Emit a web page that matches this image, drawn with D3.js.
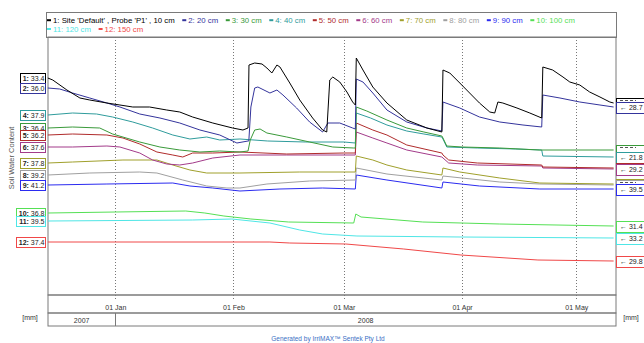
<!DOCTYPE html>
<html><head><meta charset="utf-8">
<script src="https://cdn.jsdelivr.net/npm/d3@7"></script>
<style>body{margin:0;background:#fff;} svg{display:block;font-family:"Liberation Sans",Arial,sans-serif;}</style>
</head><body><svg id="c" width="644" height="343"></svg>
<script>
const seriesNames = ["1: Site 'Default' , Probe 'P1' , 10 cm","2: 20 cm","3: 30 cm","4: 40 cm","5: 50 cm","6: 60 cm","7: 70 cm","8: 80 cm","9: 90 cm","10: 100 cm","11: 120 cm","12: 150 cm"];
const seriesColors = ["#000000","#34349c","#3a9a3a","#2f9c9c","#b02c2c","#a33b8a","#a0a02c","#a0a0a0","#2b2bf0","#55e055","#4fe6e6","#f04848"];
const startLabels = ["33.4","36.0","36.4","37.9","36.2","37.6","37.8","39.2","41.2","36.8","39.5","37.4"];
// end values; labels hidden behind a neighbouring box are left empty
const endLabels = ["","28.7","","21.8","","29.2","","","39.5","31.4","33.2","29.8"];
const monthTicks = ["2008-01-01T00","2008-02-01T00","2008-03-01T00","2008-04-01T00","2008-05-01T00"];
const yearLabels = ["2007","2008"];
const timeRange = ["2007-12-14T08","2008-05-11T10"];

// relative display level of each probe (0 = bottom of plot)
const s1 = [["2007-12-14T07",217],["2007-12-15T14",215],["2007-12-19T07",205],["2007-12-22T17",197],["2007-12-25T07",195],["2007-12-29T19",192],["2008-01-02T05",190],["2008-01-05T14",188],["2008-01-10T00",188],["2008-01-14T12",185],["2008-01-17T22",183],["2008-01-21T07",178],["2008-01-26T14",172],["2008-01-31T19",167],["2008-02-03T12",165],["2008-02-04T20",167],["2008-02-05T02",230],["2008-02-06T14",232],["2008-02-08T12",231],["2008-02-09T19",227],["2008-02-11T02",222],["2008-02-12T10",230],["2008-02-13T05",228],["2008-02-15T19",212],["2008-02-18T10",195],["2008-02-21T19",177],["2008-02-24T10",165],["2008-02-25T12",163],["2008-02-26T07",215],["2008-02-27T02",218],["2008-02-28T22",213],["2008-03-01T19",203],["2008-03-03T07",193],["2008-03-04T00",190],["2008-03-04T06",237],["2008-03-06T00",225],["2008-03-08T14",208],["2008-03-12T07",192],["2008-03-17T12",175],["2008-03-22T19",167],["2008-03-26T17",163],["2008-03-27T00",225],["2008-03-28T19",222],["2008-03-31T10",212],["2008-04-03T00",202],["2008-04-05T14",192],["2008-04-08T07",183],["2008-04-09T14",182],["2008-04-10T10",193],["2008-04-11T17",192],["2008-04-15T10",187],["2008-04-18T19",182],["2008-04-21T22",177],["2008-04-22T05",228],["2008-04-24T19",225],["2008-04-27T12",218],["2008-04-29T07",213],["2008-05-01T22",210],["2008-05-04T12",203],["2008-05-07T05",198],["2008-05-09T19",193],["2008-05-10T19",192]];
const s2 = [["2007-12-14T07",207],["2007-12-17T10",206],["2007-12-20T19",202],["2007-12-25T07",197],["2007-12-29T19",192],["2008-01-02T05",188],["2008-01-07T10",181],["2008-01-12T17",177],["2008-01-17T22",172],["2008-01-23T05",165],["2008-01-28T10",160],["2008-02-01T22",152],["2008-02-04T20",154],["2008-02-05T01",154],["2008-02-05T14",188],["2008-02-06T14",207],["2008-02-07T10",208],["2008-02-10T14",202],["2008-02-12T10",205],["2008-02-14T00",200],["2008-02-17T14",187],["2008-02-21T00",173],["2008-02-24T10",163],["2008-02-25T19",172],["2008-02-28T22",172],["2008-03-03T07",167],["2008-03-04T00",166],["2008-03-04T06",216],["2008-03-06T00",213],["2008-03-08T14",202],["2008-03-12T07",185],["2008-03-17T12",173],["2008-03-22T19",167],["2008-03-26T17",164],["2008-03-27T00",193],["2008-03-31T10",187],["2008-04-05T14",178],["2008-04-10T22",173],["2008-04-17T00",170],["2008-04-21T22",168],["2008-04-22T05",200],["2008-04-26T17",197],["2008-05-01T22",193],["2008-05-07T05",190],["2008-05-10T19",188]];
const s3 = [["2007-12-14T07",167],["2007-12-20T19",168],["2007-12-27T22",167],["2007-12-31T07",161],["2008-01-07T10",153],["2008-01-12T17",148],["2008-01-17T22",145],["2008-01-23T05",143],["2008-01-28T10",144],["2008-02-02T17",143],["2008-02-04T20",144],["2008-02-05T10",155],["2008-02-06T14",165],["2008-02-08T00",166],["2008-02-09T19",162],["2008-02-15T00",158],["2008-02-21T00",153],["2008-02-27T02",148],["2008-03-03T14",147],["2008-03-04T00",147],["2008-03-04T06",188],["2008-03-07T00",184],["2008-03-12T07",175],["2008-03-17T12",167],["2008-03-22T00",163],["2008-03-26T17",159],["2008-03-27T00",157],["2008-03-28T00",149],["2008-04-01T00",148],["2008-04-10T22",147],["2008-04-21T10",145],["2008-05-10T19",145]];
const s4 = [["2007-12-14T07",180],["2007-12-20T19",182],["2007-12-27T02",181],["2007-12-31T07",178],["2008-01-05T14",173],["2008-01-10T19",167],["2008-01-16T02",160],["2008-01-20T14",156],["2008-01-25T00",158],["2008-01-28T10",155],["2008-02-02T17",156],["2008-02-10T00",154],["2008-02-20T00",153],["2008-03-01T00",153],["2008-03-04T00",152],["2008-03-04T06",182],["2008-03-08T00",177],["2008-03-12T07",170],["2008-03-17T12",164],["2008-03-22T00",161],["2008-03-26T17",158],["2008-03-27T00",156],["2008-03-28T00",148],["2008-04-05T00",147],["2008-04-15T00",146],["2008-04-21T22",145],["2008-04-22T05",139],["2008-05-10T19",138]];
const s5 = [["2007-12-14T07",160],["2007-12-20T19",161],["2007-12-29T19",160],["2008-01-03T00",157],["2008-01-07T10",151],["2008-01-11T22",143],["2008-01-16T02",140],["2008-01-18T17",138],["2008-01-21T07",142],["2008-01-26T14",142],["2008-02-02T17",143],["2008-02-15T00",141],["2008-03-01T00",142],["2008-03-04T00",142],["2008-03-04T06",172],["2008-03-08T14",165],["2008-03-12T07",160],["2008-03-17T12",150],["2008-03-26T17",142],["2008-03-27T00",140],["2008-03-28T12",135],["2008-04-05T00",132],["2008-04-21T22",130],["2008-04-22T05",128],["2008-05-10T19",127]];
const s6 = [["2007-12-14T07",148],["2007-12-20T19",148],["2007-12-29T19",149],["2008-01-02T05",148],["2008-01-07T10",142],["2008-01-10T19",135],["2008-01-14T12",131],["2008-01-17T22",130],["2008-01-21T07",132],["2008-01-26T14",137],["2008-02-02T17",140],["2008-02-15T00",140],["2008-03-04T00",140],["2008-03-04T06",163],["2008-03-08T14",157],["2008-03-12T07",152],["2008-03-17T12",145],["2008-03-26T17",138],["2008-03-28T12",132],["2008-04-05T00",130],["2008-04-21T22",129],["2008-04-22T05",127],["2008-05-10T19",126]];
const s7 = [["2007-12-14T07",132],["2007-12-20T19",133],["2008-01-03T00",135],["2008-01-11T22",135],["2008-01-16T02",130],["2008-01-20T14",125],["2008-01-25T00",122],["2008-02-02T17",122],["2008-02-18T10",123],["2008-03-04T00",123],["2008-03-04T06",139],["2008-03-08T14",135],["2008-03-12T07",130],["2008-03-17T12",125],["2008-03-26T17",120],["2008-03-27T00",127],["2008-03-31T10",123],["2008-04-10T22",117],["2008-04-21T10",112],["2008-05-10T19",111]];
const s8 = [["2007-12-14T07",120],["2007-12-25T07",122],["2008-01-07T10",123],["2008-01-11T22",122],["2008-01-18T17",115],["2008-01-25T00",109],["2008-01-30T07",107],["2008-02-02T17",107],["2008-02-09T19",111],["2008-02-21T00",114],["2008-03-04T00",115],["2008-03-04T06",127],["2008-03-12T07",121],["2008-03-26T17",115],["2008-03-27T00",119],["2008-04-10T22",113],["2008-04-21T10",111],["2008-05-10T19",110]];
const s9 = [["2007-12-14T07",110],["2007-12-29T19",111],["2008-01-16T02",112],["2008-01-20T14",109],["2008-01-26T14",107],["2008-02-02T17",104],["2008-02-13T05",106],["2008-02-24T10",107],["2008-03-04T00",106],["2008-03-04T06",120],["2008-03-12T07",115],["2008-03-26T17",107],["2008-03-27T00",113],["2008-04-05T14",109],["2008-04-21T10",106],["2008-05-10T19",106]];
const s10 = [["2007-12-14T07",82],["2008-01-01T00",83],["2008-01-19T12",84],["2008-01-24T12",82],["2008-01-29T12",79],["2008-02-05T14",76],["2008-02-15T12",73],["2008-03-03T14",72],["2008-03-04T03",81],["2008-03-05T12",78],["2008-03-21T17",73],["2008-04-10T22",71],["2008-05-10T19",69]];
const s11 = [["2007-12-14T07",74],["2008-01-21T07",75],["2008-01-31T14",76],["2008-02-10T14",72],["2008-02-18T10",65],["2008-02-24T10",61],["2008-03-04T10",59],["2008-03-31T17",58],["2008-05-10T19",57]];
const s12 = [["2007-12-14T07",53],["2008-02-10T14",53],["2008-02-15T19",52],["2008-03-01T12",51],["2008-03-16T17",46],["2008-03-31T17",40],["2008-04-20T22",35],["2008-05-10T19",34]];
const seriesData = [s1,s2,s3,s4,s5,s6,s7,s8,s9,s10,s11,s12];

const parse = d3.timeParse("%Y-%m-%dT%H");
const svg = d3.select("#c");
const L = 48, R = 616, T = 37, B = 295;
const x = d3.scaleTime().domain(timeRange.map(parse)).range([L, R]);
const y = d3.scaleLinear().domain([0, 258]).range([B, T]);
const months = monthTicks.map(parse);
const border = "#7a7a7a";

// legend
const lg = svg.append("g");
lg.append("rect").attr("x",46.5).attr("y",12.5).attr("width",570).attr("height",25).attr("fill","#fff").attr("stroke",border);
let lx = 47, row = 0;
seriesNames.forEach((n,i)=>{
  if (i === 10) { lx = 47; row = 1; }
  const g = lg.append("g");
  const by = row ? 31.8 : 23;
  g.append("rect").attr("x",lx).attr("y",by-3.8).attr("width",4).attr("height",2).attr("fill",seriesColors[i]);
  const t = g.append("text").attr("x",lx+6).attr("y",by).attr("font-size",7.8).attr("fill",seriesColors[i]).text(n);
  lx += 6 + t.node().getComputedTextLength() + 7.6;
});

// plot frame and grid
svg.append("rect").attr("x",L).attr("y",T).attr("width",R-L).attr("height",B-T).attr("fill","none").attr("stroke",border);
svg.append("g").selectAll("line").data(months).join("line")
  .attr("x1",d=>Math.round(x(d))+0.5).attr("x2",d=>Math.round(x(d))+0.5).attr("y1",T).attr("y2",B+6)
  .attr("stroke","#777").attr("stroke-dasharray","1,2");

// series lines
const line = d3.line().x(d=>x(parse(d[0]))).y(d=>y(d[1]));
svg.append("g").selectAll("path").data(seriesData.map((s,i)=>({s,i})).reverse()).join("path")
  .attr("d",d=>line(d.s)).attr("fill","none").attr("stroke",d=>seriesColors[d.i]).attr("stroke-width",1);

// left start labels
const ll = svg.append("g");
seriesData.forEach((s,i)=>{
  const cy = y(s[0][1]);
  const g = ll.append("g");
  const r = g.append("rect");
  const t = g.append("text").attr("x",44.5).attr("y",cy+2.5).attr("text-anchor","end").attr("font-size",7).attr("fill","#222");
  t.append("tspan").attr("font-weight","bold").text((i+1)+":");
  t.append("tspan").text(" "+startLabels[i]);
  const w = t.node().getComputedTextLength();
  r.attr("x",Math.round(44.5-w-3)+0.5).attr("y",Math.round(cy-5)+0.5).attr("width",Math.round(w+3.5)).attr("height",10).attr("fill","#fff").attr("stroke",seriesColors[i]);
});

// right end labels
const rl = svg.append("g");
seriesData.forEach((s,i)=>{
  const cy = y(s[s.length-1][1]);
  rl.append("rect").attr("x",616.5).attr("y",Math.round(cy-5.5)+0.5).attr("width",40).attr("height",11).attr("fill","#fff").attr("stroke",seriesColors[i]);
  if (endLabels[i]) rl.append("text").attr("x",620).attr("y",cy+2.5).attr("font-size",7).attr("fill","#222").text("\u2190 "+endLabels[i]);
  else rl.append("line").attr("x1",620).attr("x2",636).attr("y1",Math.round(cy-3)+0.5).attr("y2",Math.round(cy-3)+0.5).attr("stroke","#555").attr("stroke-dasharray","3,2");
});

// time axis strips
svg.append("rect").attr("x",L).attr("y",B).attr("width",R-L).attr("height",18).attr("fill","none").attr("stroke",border);
svg.append("rect").attr("x",L).attr("y",B+18).attr("width",R-L).attr("height",13).attr("fill","none").attr("stroke",border);
const ax = svg.append("g").attr("transform",`translate(0,${B+3})`)
  .call(d3.axisBottom(x).tickValues(months).tickFormat(d3.timeFormat("%d %b")).tickSize(0).tickPadding(7));
ax.select(".domain").remove();
ax.selectAll("text").attr("font-size",7).attr("fill","#333").attr("font-family","Liberation Sans, Arial, sans-serif");
const yb = x(months[0]);
svg.append("line").attr("x1",Math.round(yb)+0.5).attr("x2",Math.round(yb)+0.5).attr("y1",B+18).attr("y2",B+31).attr("stroke",border);
const yearCenters = [(L+yb)/2, (yb+R)/2];
yearLabels.forEach((t,i)=>svg.append("text").attr("x",yearCenters[i]).attr("y",B+27.5).attr("text-anchor","middle").attr("font-size",7).attr("fill","#333").text(t));

// unit labels, title, footer
svg.append("text").attr("x",30).attr("y",320).attr("text-anchor","middle").attr("font-size",7).attr("fill","#333").text("[mm]");
svg.append("text").attr("x",631).attr("y",320).attr("text-anchor","middle").attr("font-size",7).attr("fill","#333").text("[mm]");
svg.append("text").attr("transform","translate(14,158) rotate(-90)").attr("text-anchor","middle").attr("font-size",7.5).attr("fill","#555").text("Soil Water Content");
svg.append("text").attr("x",328).attr("y",341).attr("text-anchor","middle").attr("font-size",6.5).attr("fill","#3b6fc4").text("Generated by IrriMAX\u2122 Sentek Pty Ltd");
</script></body></html>
